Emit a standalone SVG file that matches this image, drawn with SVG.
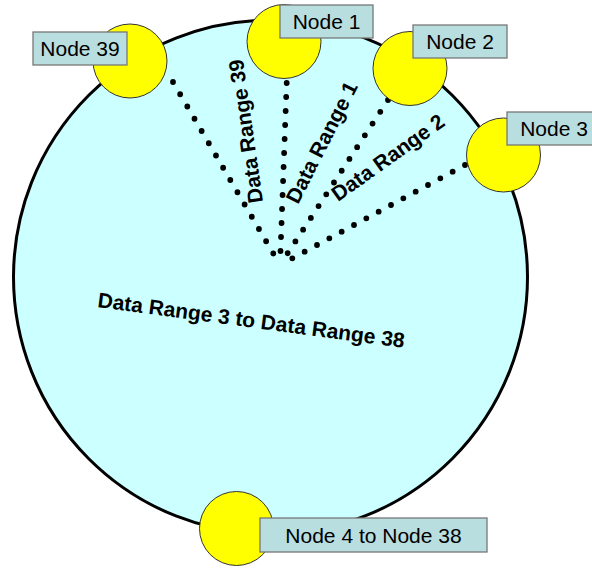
<svg xmlns="http://www.w3.org/2000/svg" width="592" height="568" viewBox="0 0 592 568">
<style>
.ring{fill:#CCFFFF;stroke:#000;stroke-width:3}
.node{fill:#FFFF00;stroke:#333;stroke-width:1}
.lbl{fill:#B9DEE0;stroke:#777;stroke-width:1.3}
.lt{font-family:"Liberation Sans",Arial,sans-serif;font-size:21px;fill:#000;text-anchor:middle}
.dr{font-family:"Liberation Sans",Arial,sans-serif;font-size:21px;font-weight:bold;fill:#000}
.dot{fill:none;stroke:#000;stroke-width:5.8;stroke-linecap:round}
</style>
<rect width="592" height="568" fill="#fff"/>
<g id="ring"><circle class="ring" cx="270.5" cy="277" r="257"/></g>
<g id="connectors">
<path class="dot" d="M173,82 L280,265" stroke-dasharray="0 14.19"/>
<path class="dot" d="M286.7,83 L280,265" stroke-dasharray="0 14.01"/>
<path class="dot" d="M388,100 L280,265" stroke-dasharray="0 14.09"/>
<path class="dot" d="M465,165 L280,265" stroke-dasharray="0 14.02"/>
</g>
<g id="range-labels">
<text class="dr" transform="translate(263,202) rotate(-98)">Data Range 39</text>
<text class="dr" transform="translate(298,205) rotate(-63)">Data Range 1</text>
<text class="dr" transform="translate(338,202) rotate(-35.5)">Data Range 2</text>
<text class="dr" transform="translate(97,307) rotate(7.6)">Data Range 3 to Data Range 38</text>
</g>
<g id="node39">
<circle class="node" cx="130" cy="61" r="37"/>
<rect class="lbl" x="33" y="32" width="94" height="33"/>
<text class="lt" x="80" y="56">Node 39</text>
</g>
<g id="node1">
<circle class="node" cx="284" cy="41.5" r="37"/>
<rect class="lbl" x="280" y="5" width="93" height="33"/>
<text class="lt" x="326.5" y="29">Node 1</text>
</g>
<g id="node2">
<circle class="node" cx="410" cy="68.5" r="37"/>
<rect class="lbl" x="413" y="25" width="94" height="33"/>
<text class="lt" x="460" y="49">Node 2</text>
</g>
<g id="node3">
<circle class="node" cx="503.5" cy="155" r="37"/>
<rect class="lbl" x="507" y="112" width="96" height="33"/>
<text class="lt" x="554" y="136">Node 3</text>
</g>
<g id="node4to38">
<circle class="node" cx="236.5" cy="528.5" r="37"/>
<rect class="lbl" x="260" y="518" width="227" height="34"/>
<text class="lt" x="373.5" y="542.5">Node 4 to Node 38</text>
</g>
</svg>
